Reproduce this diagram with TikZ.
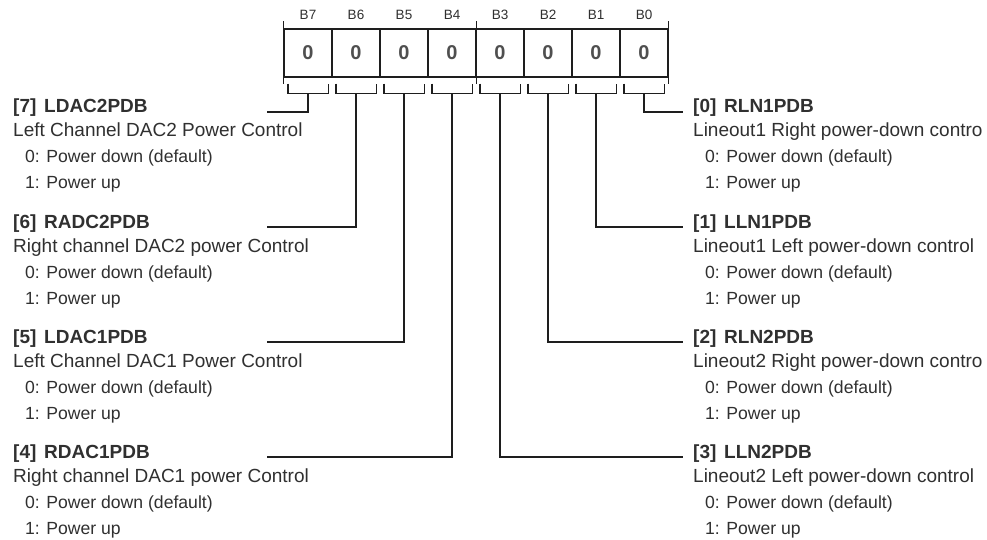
\documentclass[tikz,border=0pt]{standalone}
\usepackage{fontspec}
\setmainfont{Liberation Sans}
\usepackage{tikz}
\usetikzlibrary{positioning}
\definecolor{ink}{HTML}{303030}
\definecolor{wire}{HTML}{1E1E1E}
\tikzset{
  cell/.style={draw=wire,line width=1.1pt,minimum width=48pt,minimum height=48pt,inner sep=0pt,
               font=\fontsize{20}{24}\selectfont\bfseries,text=ink!85},
  hdr/.style={inner sep=0pt,font=\fontsize{13.5}{15}\selectfont,text=ink},
  ftitle/.style={anchor=base west,inner sep=0pt,font=\fontsize{19}{22}\selectfont\bfseries,text=ink},
  fdesc/.style={anchor=base west,inner sep=0pt,font=\fontsize{19}{23}\selectfont,text=ink},
  fval/.style={anchor=base west,inner sep=0pt,font=\fontsize{17.6}{22}\selectfont,text=ink},
  reg/.style={draw=wire,line width=1.1pt},
}
% one field description: name, x, baseline y, bit, title, text
\newcommand{\bitfield}[6]{%
  \node[ftitle] (#1t) at (#2,#3) {[#4]\hspace{2.5pt} #5};
  \node[fdesc] (#1d) at (#2,#3-24) {#6};
  \node[fval] (#1a) at (#2+12,#3-50) {0: Power down (default)};
  \node[fval] (#1b) at (#2+12,#3-76) {1: Power up};
}

\begin{document}
\begin{tikzpicture}[x=1pt,y=1pt]
\fill[white] (0,0) rectangle (987,-540);
\useasboundingbox (0,0) rectangle (987,-540);

% register cells
\foreach \b in {0,...,7} {
  \node[cell] (c\b) at ({308+48*(7-\b)},-53) {0};
  \node[hdr] (h\b) at ({308+48*(7-\b)},-15) {B\b};
  \draw[reg] ([xshift=4.5pt,yshift=-6pt]c\b.south west) -- ++(0,-10)
     -| ([xshift=-4.5pt,yshift=-6pt]c\b.south east);
  \coordinate (k\b) at ([yshift=-16pt]c\b.south);
}
\draw[reg] ([yshift=7pt]c7.north west) -- ([yshift=-6pt]c7.south west);
\draw[reg] ([yshift=7pt]c4.north east) -- ([yshift=-6pt]c4.south east);
\draw[reg] ([yshift=7pt]c0.north east) -- ([yshift=-6pt]c0.south east);

% left fields
\bitfield{f7}{13}{-113}{7}{LDAC2PDB}{Left Channel DAC2 Power Control}
\bitfield{f6}{13}{-228}{6}{RADC2PDB}{Right channel DAC2 power Control}
\bitfield{f5}{13}{-343}{5}{LDAC1PDB}{Left Channel DAC1 Power Control}
\bitfield{f4}{13}{-458}{4}{RDAC1PDB}{Right channel DAC1 power Control}

% right fields
\bitfield{f0}{693}{-113}{0}{RLN1PDB}{Lineout1 Right power-down contro}
\bitfield{f1}{693}{-228}{1}{LLN1PDB}{Lineout1 Left power-down control}
\bitfield{f2}{693}{-343}{2}{RLN2PDB}{Lineout2 Right power-down contro}
\bitfield{f3}{693}{-458}{3}{LLN2PDB}{Lineout2 Left power-down control}

% connectors
\coordinate (e7) at (267,-112);
\coordinate (e6) at (267,-227);
\coordinate (e5) at (267,-342);
\coordinate (e4) at (267,-457);
\coordinate (e0) at (683,-112);
\coordinate (e1) at (683,-227);
\coordinate (e2) at (683,-342);
\coordinate (e3) at (683,-457);
\foreach \b in {0,...,7}
  \draw[reg] (k\b) |- (e\b);
\end{tikzpicture}
\end{document}
